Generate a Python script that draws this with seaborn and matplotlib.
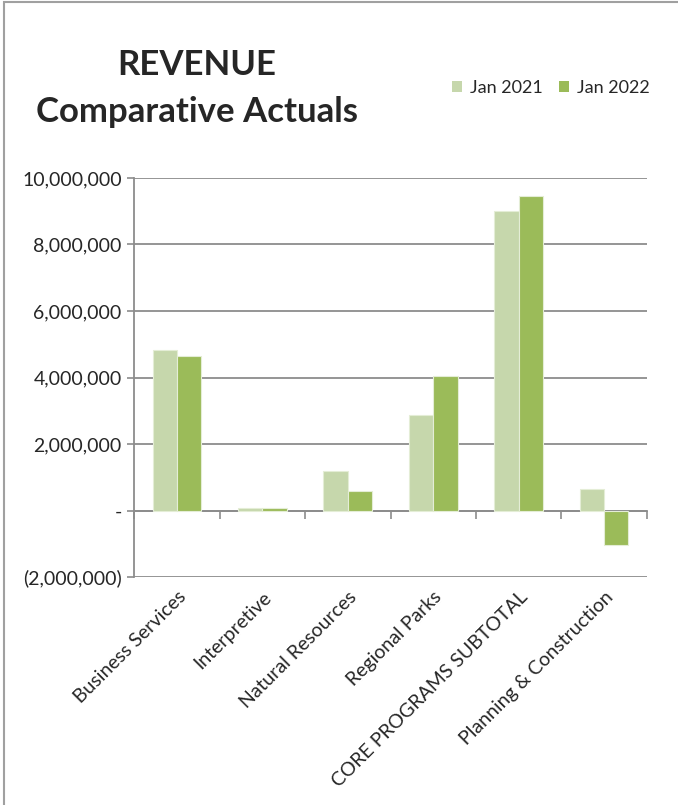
import pandas as pd
import matplotlib.pyplot as plt
import matplotlib.ticker as mticker
import seaborn as sns

# values
categories = ["Business Services", "Interpretive", "Natural Resources",
              "Regional Parks", "CORE PROGRAMS SUBTOTAL", "Planning & Construction"]
jan_2021 = [4830000, 70000, 1180000, 2870000, 9000000, 650000]
jan_2022 = [4650000, 90000, 600000, 4060000, 9450000, -1020000]
series = ["Jan 2021", "Jan 2022"]
y_ticks = [-2000000, 0, 2000000, 4000000, 6000000, 8000000, 10000000]

df = pd.DataFrame({"category": categories * 2,
                   "period": [series[0]] * 6 + [series[1]] * 6,
                   "value": jan_2021 + jan_2022})

sns.set_style("white")
plt.rcParams["font.family"] = ["Lato", "DejaVu Sans"]

fig = plt.figure(figsize=(6.78, 8.05), dpi=100)
ax = fig.add_axes([0.198, 0.283, 0.756, 0.496])

grey = "#8c8c8c"
sns.barplot(data=df, x="category", y="value", hue="period", order=categories,
            hue_order=series, palette=["#c6d7ac", "#9bbb59"], width=0.57,
            edgecolor="#e4edd6", linewidth=0.8, saturation=1, ax=ax, zorder=3)

ax.set_ylim(y_ticks[0], y_ticks[-1])
ax.set_xlim(-0.5, len(categories) - 0.5)
ax.set_yticks(y_ticks)

def money(v, pos):
    if v == 0:
        return "-"
    if v < 0:
        return f"({abs(v):,.0f})"
    return f"{v:,.0f}"

ax.yaxis.set_major_formatter(mticker.FuncFormatter(money))
ax.grid(axis="y", color=grey, linewidth=1.3, zorder=0)
ax.tick_params(axis="y", direction="out", length=5, width=1.2, color=grey,
               labelsize=14, pad=4, left=True)
ax.tick_params(axis="x", length=0, labelsize=14, pad=8)
ax.set_xticks(range(len(categories)))
ax.set_xticklabels(categories, rotation=45, ha="right", rotation_mode="anchor")
ax.set_xlabel("")
ax.set_ylabel("")

for side in ["top", "right", "bottom"]:
    ax.spines[side].set_visible(False)
ax.spines["left"].set_color(grey)
ax.spines["left"].set_linewidth(1.3)

# zero line with category boundary ticks
zero_pos = (0 - y_ticks[0]) / (y_ticks[-1] - y_ticks[0])
sec = ax.secondary_xaxis(zero_pos)
sec.set_xticks([i - 0.5 for i in range(len(categories) + 1)])
sec.tick_params(direction="out", length=6, width=1.2, color=grey, labelbottom=False)
sec.spines["bottom"].set_color(grey)
sec.spines["bottom"].set_linewidth(1.3)
sec.spines["bottom"].set_zorder(4)

leg = ax.legend(loc="center left", bbox_to_anchor=(0.666, 0.891),
                bbox_transform=fig.transFigure, ncol=2, frameon=False,
                fontsize=13, handlelength=0.6, handleheight=0.6, handletextpad=0.4,
                columnspacing=0.9, borderpad=0, borderaxespad=0)
for h in leg.legend_handles:
    h.set_edgecolor("none")

fig.text(0.29, 0.919, "REVENUE", ha="center", va="center", fontsize=25, fontweight="bold")
fig.text(0.29, 0.861, "Comparative Actuals", ha="center", va="center", fontsize=25,
         fontweight="bold")

fig.patches.append(plt.Rectangle((0.006, -0.05), 1.1, 1.047, transform=fig.transFigure,
                                 fill=False, edgecolor="#a0a0a0", linewidth=1.5))

fig.savefig("out.png", dpi=100)
